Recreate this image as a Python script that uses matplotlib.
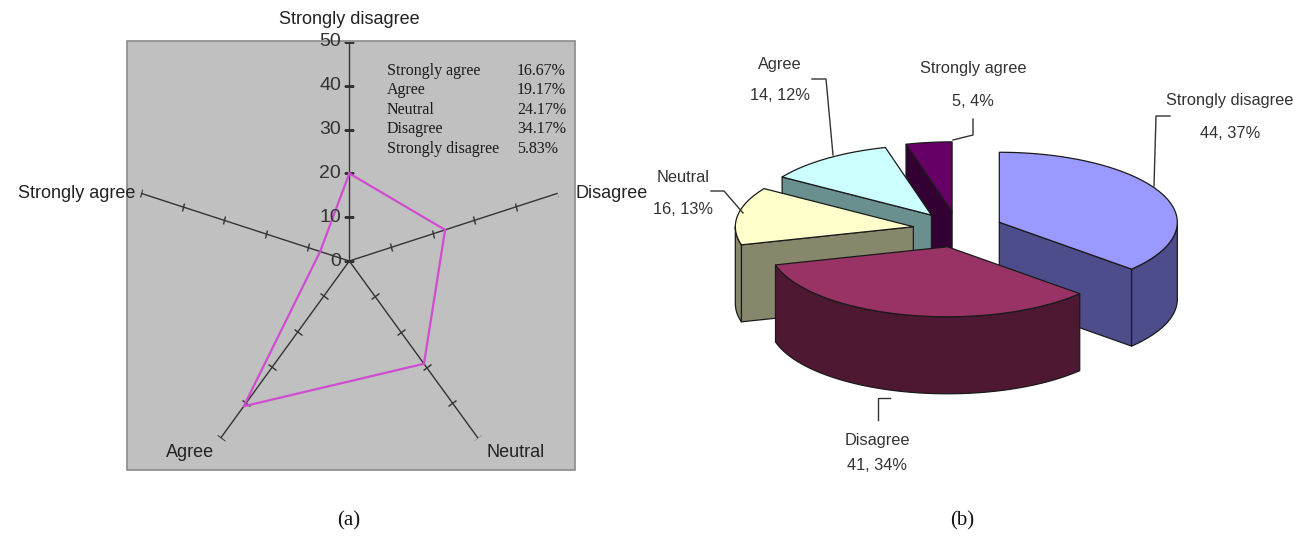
import numpy as np
import matplotlib
matplotlib.use('Agg')
import matplotlib.pyplot as plt
from matplotlib.markers import MarkerStyle
from matplotlib.transforms import Affine2D
from matplotlib.patches import Rectangle, Polygon

W, H = 1300, 541

# ---------------- data ----------------
radar_categories = ['Strongly disagree', 'Disagree', 'Neutral', 'Agree', 'Strongly agree']
radar_values = [20, 23, 29, 41, 7]
radar_ticks = [0, 10, 20, 30, 40, 50]
inset_labels = ['Strongly agree', 'Agree', 'Neutral', 'Disagree', 'Strongly disagree']
inset_percents = ['16.67%', '19.17%', '24.17%', '34.17%', '5.83%']

pie_labels = ['Strongly disagree', 'Disagree', 'Neutral', 'Agree', 'Strongly agree']
pie_counts = [44, 41, 16, 14, 5]
pie_percents = ['37%', '34%', '13%', '12%', '4%']
pie_top_colors = ['#9999FF', '#993366', '#FFFFCC', '#CCFFFF', '#660066']
pie_side_colors = ['#4D4D8C', '#4F1832', '#87876B', '#6A8F8F', '#330033']

SANS = ['Liberation Sans', 'DejaVu Sans']
SERIF = ['Liberation Serif', 'DejaVu Serif']

fig = plt.figure(figsize=(W / 100, H / 100), dpi=100)

def fx(x):
    return x / W

def fy(y):
    return 1 - y / H

# ---------------- (a) radar ----------------
fig.add_artist(Rectangle((fx(127), fy(470)), (575 - 127) / W, (470 - 41) / H,
                         transform=fig.transFigure, facecolor='#C0C0C0',
                         edgecolor='#8a8a8a', lw=1.2, zorder=-1))

rcx, rcy, R = 349.3, 261.0, 219.0
ax = fig.add_axes([fx(rcx - R), fy(rcy + R), 2 * R / W, 2 * R / H], projection='polar')
ax.set_theta_offset(np.pi / 2)
ax.set_theta_direction(-1)
ax.set_ylim(0, radar_ticks[-1])
ax.patch.set_visible(False)
ax.axis('off')

n = len(radar_categories)
thetas = [2 * np.pi * i / n for i in range(n)]
axis_color = '#333333'
for i, th in enumerate(thetas):
    ax.plot([th, th], [0, radar_ticks[-1]], color=axis_color, lw=1.0, zorder=2)
    screen = 90 - 360 * i / n
    mk = MarkerStyle('_', transform=Affine2D().rotate_deg(screen + 90))
    rs = radar_ticks[1:] if i > 0 else radar_ticks
    ax.plot([th] * len(rs), rs, ls='none', marker=mk, ms=6.5, mew=1.0,
            color=axis_color, zorder=2)

vals = radar_values + [radar_values[0]]
ths = thetas + [thetas[0]]
ax.plot(ths, vals, color='#D04CD0', lw=1.6, zorder=3)

for t in radar_ticks:
    ax.annotate(str(t), xy=(0, t), xytext=(-6, 0), textcoords='offset points',
                ha='right', va='center', fontsize=14, color='#333333', family=SANS)

label_offsets = [(0, 10, 'center', 'bottom'), (13, 0, 'left', 'center'),
                 (6, -4, 'left', 'top'), (-5, -4, 'right', 'top'),
                 (-4, 0, 'right', 'center')]
for cat, th, (ox, oy, ha, va) in zip(radar_categories, thetas, label_offsets):
    ax.annotate(cat, xy=(th, radar_ticks[-1]), xytext=(ox, oy), textcoords='offset points',
                ha=ha, va=va, fontsize=13, color='#222222', family=SANS, annotation_clip=False)

for k, (lab, pc) in enumerate(zip(inset_labels, inset_percents)):
    yy = 70.7 + 19.5 * k
    fig.text(fx(387), fy(yy), lab, ha='left', va='center', fontsize=11.5,
             family=SERIF, color='#1a1a1a')
    fig.text(fx(517), fy(yy), pc, ha='left', va='center', fontsize=11.5,
             family=SERIF, color='#1a1a1a')

# ---------------- (b) 3D pie ----------------
axp = fig.add_axes([0, 0, 1, 1])
axp.set_xlim(0, W)
axp.set_ylim(H, 0)
axp.axis('off')
axp.patch.set_visible(False)

pcx, pcy, rx, ry, depth, explode = 958.0, 229.5, 178.0, 70.0, 77.0, 0.254
total = float(sum(pie_counts))
edge = dict(edgecolor='#1a1a1a', lw=0.9, joinstyle='round')

slices = []
a = 90.0
for i, c in enumerate(pie_counts):
    span = 360.0 * c / total
    a1, a2 = a, a - span
    a = a2
    mid = 0.5 * (a1 + a2)
    apx = pcx + explode * rx * np.cos(np.radians(mid))
    apy = pcy - explode * ry * np.sin(np.radians(mid))
    slices.append((i, a1, a2, mid, apx, apy))

def rim(apx, apy, t):
    t = np.radians(t)
    return apx + rx * np.cos(t), apy - ry * np.sin(t)

slices.sort(key=lambda s: -np.sin(np.radians(s[3])))
for i, a1, a2, mid, apx, apy in slices:
    side = pie_side_colors[i]
    top = pie_top_colors[i]
    for ang, nrm in ((a1, a1 + 90), (a2, a2 - 90)):
        if np.sin(np.radians(nrm)) < -1e-6:
            ex, ey = rim(apx, apy, ang)
            quad = [(apx, apy), (ex, ey), (ex, ey + depth), (apx, apy + depth)]
            axp.add_patch(Polygon(quad, closed=True, facecolor=side, **edge))
    for kk in (-1, 0, 1):
        lo = max(a2, -180 + 360 * kk)
        hi = min(a1, 360 * kk)
        if hi > lo:
            tt = np.linspace(lo, hi, 80)
            xs, ys = rim(apx, apy, tt)
            pts = list(zip(xs, ys)) + list(zip(xs[::-1], ys[::-1] + depth))
            axp.add_patch(Polygon(pts, closed=True, facecolor=side, **edge))
    tt = np.linspace(a1, a2, 120)
    xs, ys = rim(apx, apy, tt)
    pts = [(apx, apy)] + list(zip(xs, ys))
    axp.add_patch(Polygon(pts, closed=True, facecolor=top, **edge))

label_pos = {
    'Strongly disagree': (1230, 101, 133),
    'Disagree': (877, 440, 466),
    'Neutral': (683, 178, 210),
    'Agree': (780, 65, 96),
    'Strongly agree': (973, 68, 102),
}
leaders = {
    'Strongly disagree': [(1170, 116), (1156, 116), (1154, 186)],
    'Disagree': [(890, 398), (878, 398), (878, 420)],
    'Neutral': [(711, 191), (724, 191), (743, 213)],
    'Agree': [(812, 79), (826, 79), (833, 155)],
    'Strongly agree': [(973, 119), (973, 135), (953, 140)],
}
for lab, cnt, pc in zip(pie_labels, pie_counts, pie_percents):
    x, y1, y2 = label_pos[lab]
    axp.text(x, y1, lab, ha='center', va='center', fontsize=11.8, family=SANS, color='#333333')
    axp.text(x, y2, f'{cnt}, {pc}', ha='center', va='center', fontsize=11.8,
             family=SANS, color='#333333')
    lx, ly = zip(*leaders[lab])
    axp.plot(lx, ly, color='#333333', lw=1.0)

axp.text(349, 521, '(a)', ha='center', va='center', fontsize=15, family=SERIF, color='#111111')
axp.text(962, 521, '(b)', ha='center', va='center', fontsize=15, family=SERIF, color='#111111')

fig.savefig('out.png', dpi=100, facecolor='white')
